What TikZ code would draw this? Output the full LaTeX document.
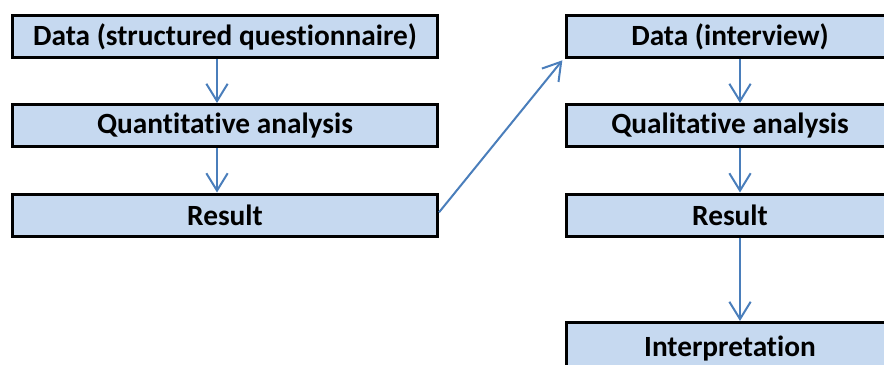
\documentclass[tikz,border=0pt]{standalone}
\usepackage{fontspec}
\setmainfont[Ligatures=NoCommon]{Carlito}
\usetikzlibrary{arrows.meta}
\tikzset{
  box/.style={draw=black,line width=2.25pt,fill=boxfill,inner sep=0pt,
    minimum height=31.5pt,font=\bfseries\fontsize{22}{24}\selectfont},
  leftbox/.style={box,minimum width=318.75pt},
  rightbox/.style={box,minimum width=245.25pt},
  flow/.style={draw=flowblue,line width=1.5pt,-{Straight Barb[length=13pt,width=16pt]}}
}
\definecolor{boxfill}{RGB}{198,217,240}
\definecolor{flowblue}{RGB}{74,126,187}
\begin{document}
\begin{tikzpicture}[x=0.75pt,y=-0.75pt]
\useasboundingbox (0,0) rectangle (884,364);
\clip (0,0) rectangle (884,364);
\node[leftbox] (ldata) at (225,36.5) {Data (structured questionnaire)};
\node[leftbox] (lana) at (225,125.5) {Quantitative analysis};
\node[leftbox] (lres) at (225,215) {Result};
\node[rightbox] (rdata) at (730,36.5) {Data (interview)};
\node[rightbox] (rana) at (730,125.5) {Qualitative analysis};
\node[rightbox] (rres) at (730,215) {Result};
\node[rightbox,minimum height=39pt] (rint) at (730,348.5) {Interpretation};
\draw[flow] ([xshift=-6pt]ldata.south) -- ([xshift=-6pt]lana.north);
\draw[flow] ([xshift=-6pt]lana.south) -- ([xshift=-6pt]lres.north);
\draw[flow] ([xshift=7.5pt]rdata.south) -- ([xshift=7.5pt]rana.north);
\draw[flow] ([xshift=7.5pt]rana.south) -- ([xshift=7.5pt]rres.north);
\draw[flow] ([xshift=7.5pt]rres.south) -- ([xshift=7.5pt]rint.north);
\draw[flow] ([yshift=2pt]lres.east) -- ([xshift=-2pt,yshift=-1pt]rdata.south west);
\end{tikzpicture}
\end{document}
